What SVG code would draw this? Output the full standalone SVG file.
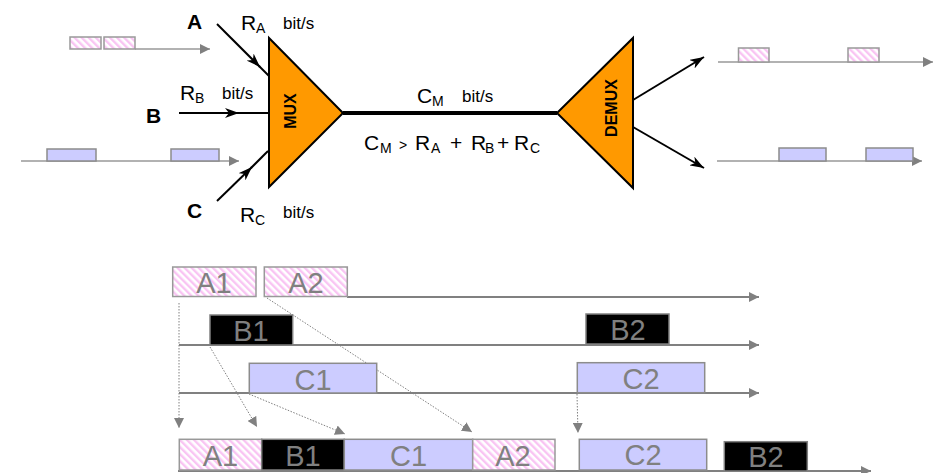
<svg xmlns="http://www.w3.org/2000/svg" width="938" height="473" viewBox="0 0 938 473">
<defs>
  <pattern id="hatch" patternUnits="userSpaceOnUse" width="5" height="5" patternTransform="rotate(-45)">
    <rect width="5" height="5" fill="#ffffff"/>
    <rect width="2.4" height="5" fill="#f9c4f3"/>
  </pattern>
  <marker id="barb" markerUnits="userSpaceOnUse" viewBox="0 0 14 10" refX="14" refY="5" markerWidth="14" markerHeight="10" orient="auto">
    <path d="M0,0 L14,5 L0,10 L4,5 Z" fill="#000"/>
  </marker>
  <marker id="gtri" markerUnits="userSpaceOnUse" viewBox="0 0 10 10" refX="10" refY="5" markerWidth="11" markerHeight="10" orient="auto">
    <path d="M0,0 L10,5 L0,10 Z" fill="#808080"/>
  </marker>
  <marker id="dtri" markerUnits="userSpaceOnUse" viewBox="0 0 10 10" refX="10" refY="5" markerWidth="10" markerHeight="10" orient="auto">
    <path d="M0,0 L10,5 L0,10 Z" fill="#808080"/>
  </marker>
</defs>
<style>
  text { font-family: "Liberation Sans", Arial, sans-serif; }
  .lbl { font-weight: bold; font-size: 21px; fill: #000; }
  .r { font-size: 21px; fill: #000; }
  .sub { font-size: 14px; fill: #000; }
  .bits { font-size: 17px; fill: #000; }
  .box { font-size: 29px; fill: #808080; text-anchor: middle; }
  .tri { fill: #ff9900; stroke: #000; stroke-width: 2; stroke-linejoin: miter; }
  .blk { stroke: #000; stroke-width: 2; fill: none; }
  .gline { stroke: #808080; stroke-width: 2; fill: none; }
  .sline { stroke: #999; stroke-width: 1.5; fill: none; }
  .dot { stroke: #808080; stroke-width: 1; stroke-dasharray: 1.5 1.5; fill: none; }
  .hA { fill: url(#hatch); stroke: #999; stroke-width: 1.5; }
  .hB { fill: #000; stroke: #808080; stroke-width: 1.5; }
  .hC { fill: #ccccff; stroke: #8c8c8c; stroke-width: 1.5; }
</style>

<g id="connectors">
  <path class="blk" d="M217,24 L260,67" marker-end="url(#barb)"/>
  <path class="blk" d="M259,66 L269,76"/>
  <path class="blk" d="M179,113 L239,113" marker-end="url(#barb)"/>
  <path class="blk" d="M238,113 L268,113"/>
  <path class="blk" d="M217,201 L252,167" marker-end="url(#barb)"/>
  <path class="blk" d="M251,168 L268,151"/>
  <path d="M343,113 L557,113" stroke="#000" stroke-width="4"/>
  <path class="blk" d="M633,100 L704,57" marker-end="url(#barb)"/>
  <path class="blk" d="M633,127 L704,168" marker-end="url(#barb)"/>
  <path class="sline" d="M135,49 L210,49" marker-end="url(#gtri)"/>
  <path class="sline" d="M21,161 L239,161" marker-end="url(#gtri)"/>
  <path class="sline" d="M718,62 L933,62" marker-end="url(#gtri)"/>
  <path class="sline" d="M717,161 L922,161" marker-end="url(#gtri)"/>
  <path class="gline" d="M347,297 L759,297" marker-end="url(#gtri)"/>
  <path class="gline" d="M179,345 L759,345" marker-end="url(#gtri)"/>
  <path class="gline" d="M179,393 L759,393" marker-end="url(#gtri)"/>
  <path class="gline" d="M178,471 L871,471" marker-end="url(#gtri)"/>
  <path class="dot" d="M179,303 L179,428" marker-end="url(#dtri)"/>
  <path class="dot" d="M210,347 L257,427" marker-end="url(#dtri)"/>
  <path class="dot" d="M249,394 L345,434" marker-end="url(#dtri)"/>
  <path class="dot" d="M267,298 L472,432" marker-end="url(#dtri)"/>
  <path class="dot" d="M577,394 L578,433" marker-end="url(#dtri)"/>
</g>

<g id="mux">
  <polygon class="tri" points="269,38 269,187 343,113"/>
  <text class="lbl" text-anchor="middle" transform="translate(296,111) rotate(-90)" style="font-size:16px">MUX</text>
</g>

<g id="demux">
  <polygon class="tri" points="633,38 633,188 557,113"/>
  <text class="lbl" text-anchor="middle" transform="translate(617,108) rotate(-90)" style="font-size:16px">DEMUX</text>
</g>

<g id="labels">
  <text class="lbl" x="187" y="29">A</text>
  <text class="r" x="241" y="30">R</text><text class="sub" x="256" y="33">A</text>
  <text class="bits" x="283" y="29">bit/s</text>

  <text class="lbl" x="146" y="123">B</text>
  <text class="r" x="180" y="100">R</text><text class="sub" x="195" y="103">B</text>
  <text class="bits" x="222" y="99">bit/s</text>

  <text class="lbl" x="187" y="218">C</text>
  <text class="r" x="240" y="222">R</text><text class="sub" x="255" y="225">C</text>
  <text class="bits" x="283" y="218">bit/s</text>

  <text class="r" x="417" y="103">C</text><text class="sub" x="432" y="106">M</text>
  <text class="bits" x="462" y="102">bit/s</text>

  <text class="r" x="364" y="150">C</text><text class="sub" x="380" y="153">M</text>
  <text class="sub" x="399" y="150">&gt;</text>
  <text class="r" x="415" y="150">R</text><text class="sub" x="431" y="153">A</text>
  <text class="r" x="450" y="150">+</text>
  <text class="r" x="471" y="150">R</text><text class="sub" x="485" y="153">B</text>
  <text class="r" x="497" y="150">+</text>
  <text class="r" x="514" y="150">R</text><text class="sub" x="530" y="153">C</text>
</g>

<g id="stream-a-in">
  <rect class="hA" x="70" y="37" width="31" height="12"/>
  <rect class="hA" x="104" y="37" width="31" height="12"/>
</g>
<g id="stream-c-in">
  <rect class="hC" x="47" y="149" width="49" height="12"/>
  <rect class="hC" x="171" y="149" width="48" height="12"/>
</g>
<g id="stream-a-out">
  <rect class="hA" x="738.5" y="48" width="30.5" height="14"/>
  <rect class="hA" x="848" y="48" width="31" height="14"/>
</g>
<g id="stream-c-out">
  <rect class="hC" x="779" y="148" width="47" height="13"/>
  <rect class="hC" x="866" y="148" width="47" height="13"/>
</g>

<g id="row-a">
  <rect class="hA" x="172.7" y="267" width="83.3" height="29.5"/>
  <text class="box" x="214" y="293">A1</text>
  <rect class="hA" x="264.3" y="267" width="83" height="29.5"/>
  <text class="box" x="306" y="293">A2</text>
</g>
<g id="row-b">
  <rect class="hB" x="210" y="315" width="82.7" height="30"/>
  <text class="box" x="251" y="341">B1</text>
  <rect class="hB" x="586" y="314" width="83" height="30"/>
  <text class="box" x="628" y="340">B2</text>
</g>
<g id="row-c">
  <rect class="hC" x="249.3" y="363.3" width="127.4" height="29.7"/>
  <text class="box" x="313" y="390">C1</text>
  <rect class="hC" x="577.3" y="362.7" width="127.4" height="30"/>
  <text class="box" x="641" y="389">C2</text>
</g>
<g id="row-mux">
  <rect class="hA" x="179.3" y="439.3" width="82.4" height="30.7"/>
  <text class="box" x="220.5" y="466">A1</text>
  <rect class="hB" x="261.7" y="439.3" width="82.6" height="30.7"/>
  <text class="box" x="303" y="466">B1</text>
  <rect class="hC" x="344.3" y="439.3" width="128.4" height="30.7"/>
  <text class="box" x="408.5" y="466">C1</text>
  <rect class="hA" x="472.7" y="439.3" width="82.3" height="30.7"/>
  <text class="box" x="513" y="466">A2</text>
  <rect class="hC" x="579.3" y="439.3" width="127.4" height="30.7"/>
  <text class="box" x="643" y="465">C2</text>
  <rect class="hB" x="724.3" y="441.7" width="83" height="29.3"/>
  <text class="box" x="766" y="467">B2</text>
</g>
</svg>
